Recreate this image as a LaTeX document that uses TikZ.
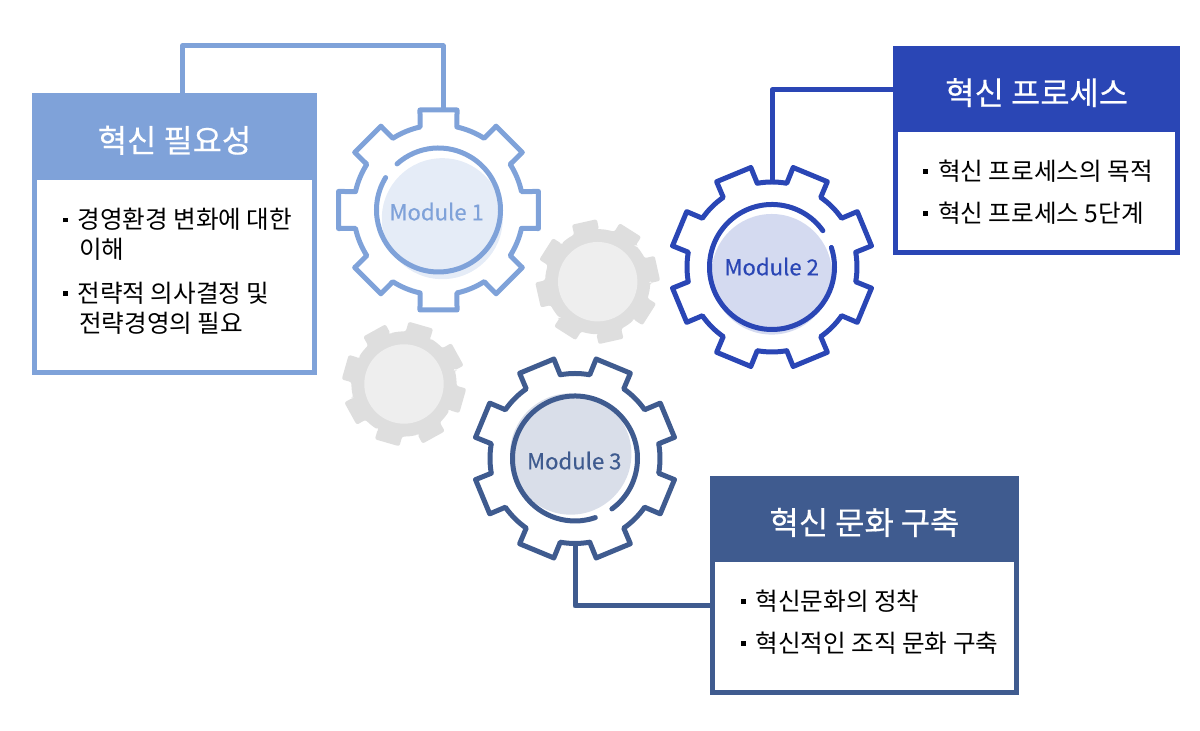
\documentclass[tikz,border=0pt]{standalone}
\usepackage{fontspec}
\setmainfont{Noto Sans CJK KR}
\newfontfamily\modfont[FakeBold=0.4]{Noto Sans CJK KR}
\usepackage{xcolor}
\definecolor{needblue}{HTML}{7FA2D9}
\definecolor{procblue}{HTML}{2A46B5}
\definecolor{cultblue}{HTML}{3F5B8F}
\newcommand{\gearpath}[4]{(-#3:#1) \foreach \a in {0,45,...,315}{ -- (\a-#3:#1) -- (\a-#4:#2) -- (\a+#4:#2) -- (\a+#3:#1) arc[start angle=\a+#3,end angle=\a+45-#3,radius=#1]} -- cycle}
\newcommand{\itemmark}{\rule[0.26em]{0.048cm}{0.048cm}\hspace{0.1cm}}
\newcommand{\boxhead}[1]{\raisebox{-0.035cm}[\height][\depth]{#1}}
\tikzset{
  boxbody/.style={draw=#1,line width=0.047cm,fill=white,inner sep=0pt,outer sep=0pt},
  boxtitle/.style={fill=#1,text=white,inner sep=0pt,outer sep=0pt,font=\modfont\fontsize{9.05}{11}\selectfont},
  linktext/.style={anchor=west,inner sep=0pt,font=\fontsize{7}{8}\selectfont},
  modlabel/.style={text=#1,inner sep=0pt,font=\modfont\fontsize{6.3}{8}\selectfont},
  connect/.style={draw=#1,line width=0.05cm,line join=round},
  gearline/.style={draw=#1,line width=0.05cm,line join=round},
  ringline/.style={draw=#1,line width=0.05cm,line cap=round},
}
\begin{document}
\begin{tikzpicture}
\useasboundingbox (0,0) rectangle (12,7.31);
% connector ends
\coordinate (bend1) at (1.823,6.85);
\coordinate (top1) at (4.433,6.21);
\coordinate (bend2) at (7.72,6.41);
\coordinate (top2) at (7.72,5.48);
\coordinate (bot3) at (5.75,1.86);
\coordinate (bend3) at (5.75,1.25);
% grey gears
\begin{scope}[shift={(5.977,4.493)},rotate=12.6]
\fill[gray!26,rounded corners=0.6pt] \gearpath{0.525}{0.625}{14}{11.8};
\fill[gray!13] (0,0) circle (0.397);
\end{scope}
\begin{scope}[shift={(4.04,3.47)},rotate=29]
\fill[gray!26,rounded corners=0.6pt] \gearpath{0.525}{0.625}{14}{11.8};
\fill[gray!13] (0,0) circle (0.397);
\end{scope}
% gear 1
\node[circle,fill=needblue!20,inner sep=0pt,minimum size=1.21cm] (disk1) at (4.423,5.123) {};
\begin{scope}[shift={(4.385,5.21)}]
\draw[gearline=needblue] \gearpath{0.85}{1.017}{12.5}{10.5};
\draw[ringline=needblue] (148.5:0.62) arc[start angle=148.5,end angle=492,radius=0.62];
\end{scope}
\node[modlabel=needblue] (mod1) at (4.367,5.193) {Module 1};
% gear 2
\node[circle,fill=procblue!20,inner sep=0pt,minimum size=1.206cm] (disk2) at (7.717,4.567) {};
\begin{scope}[shift={(7.72,4.64)}]
\draw[gearline=procblue,rotate=22.5] \gearpath{0.85}{1.017}{12.5}{10.5};
\draw[ringline=procblue] (35.5:0.625) arc[start angle=35.5,end angle=378.2,radius=0.625];
\end{scope}
\node[modlabel=procblue] (mod2) at (7.717,4.643) {Module 2};
% gear 3
\node[circle,fill=cultblue!20,inner sep=0pt,minimum size=1.214cm] (disk3) at (5.707,2.77) {};
\begin{scope}[shift={(5.75,2.725)}]
\draw[gearline=cultblue,rotate=22.5] \gearpath{0.85}{1.017}{12.5}{10.5};
\draw[ringline=cultblue] (-53.8:0.625) arc[start angle=-53.8,end angle=289,radius=0.625];
\end{scope}
\node[modlabel=cultblue] (mod3) at (5.743,2.703) {Module 3};
% boxes
\node[boxbody=needblue,minimum width=2.797cm,minimum height=2.77cm] (box1) at (1.745,4.968) {};
\node[boxtitle=needblue,anchor=north,minimum width=2.844cm,minimum height=0.87cm] (title1) at (1.745,6.377) {\boxhead{혁신 필요성}};
\node[boxbody=procblue,minimum width=2.82cm,minimum height=2.043cm] (box2) at (10.367,5.805) {};
\node[boxtitle=procblue,anchor=north,minimum width=2.867cm,minimum height=0.863cm] (title2) at (10.367,6.85) {\boxhead{혁신 프로세스}};
\node[boxbody=cultblue,minimum width=3.043cm,minimum height=2.143cm] (box3) at (8.645,1.455) {};
\node[boxtitle=cultblue,anchor=north,minimum width=3.09cm,minimum height=0.86cm] (title3) at (8.645,2.55) {\boxhead{혁신 문화 구축}};
% connectors
\draw[connect=needblue] (title1.north -| bend1) -- (bend1) -| (top1);
\draw[connect=procblue] (title2.west |- bend2) -- (bend2) -- (top2);
\draw[connect=cultblue] (bot3) -- (bend3) -- (box3.west |- bend3);
% box texts
\node[linktext] (item1a) at (0.62,5.115) {\itemmark 경영환경 변화에 대한};
\node[linktext] (item1b) at (0.785,4.82) {이해};
\node[linktext] (item1c) at (0.62,4.38) {\itemmark 전략적 의사결정 및};
\node[linktext] (item1d) at (0.785,4.075) {전략경영의 필요};
\node[linktext] (item2a) at (9.225,5.6) {\itemmark 혁신 프로세스의 목적};
\node[linktext] (item2b) at (9.225,5.18) {\itemmark 혁신 프로세스 5단계};
\node[linktext] (item3a) at (7.40,1.30) {\itemmark 혁신문화의 정착};
\node[linktext] (item3b) at (7.40,0.88) {\itemmark 혁신적인 조직 문화 구축};
\end{tikzpicture}
\end{document}
